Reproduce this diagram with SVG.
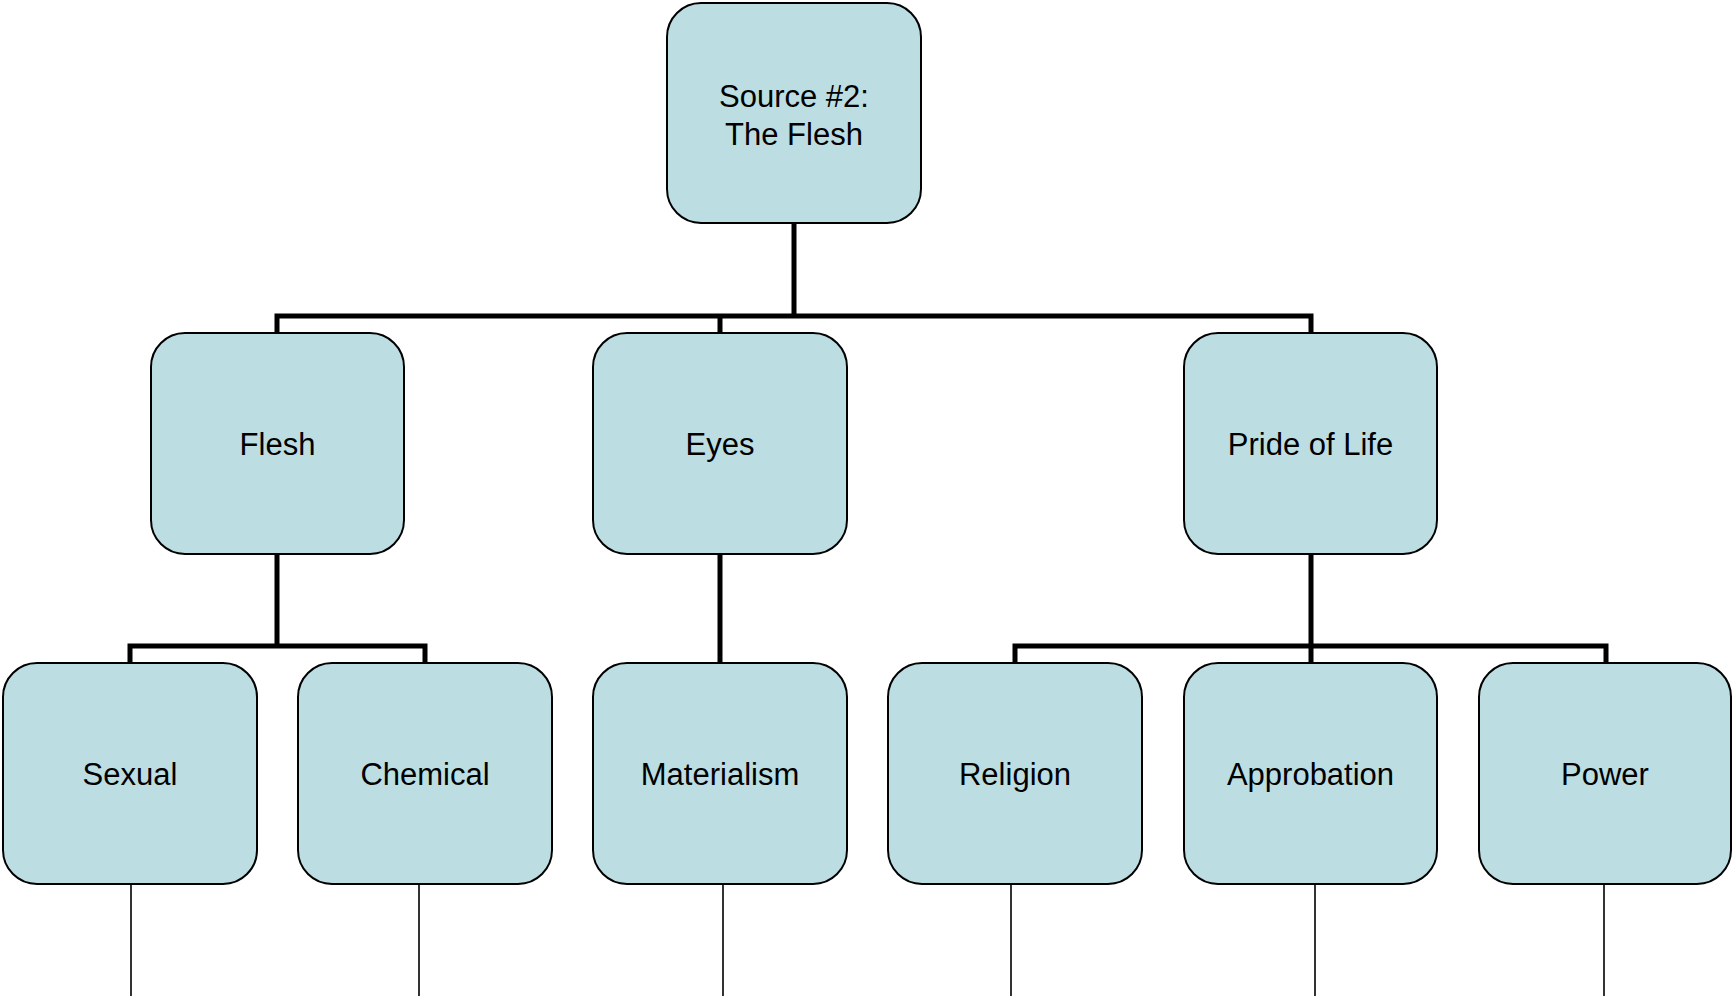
<svg xmlns="http://www.w3.org/2000/svg" width="1733" height="1001" viewBox="0 0 1733 1001">
<style>
.box{fill:#bcdee3;stroke:#000;stroke-width:2}
.lbl{font-family:"Liberation Sans",Arial,sans-serif;font-size:31px;fill:#000;text-anchor:middle}
.thick{stroke:#000;stroke-width:5;fill:none;stroke-linecap:square}
.thin{stroke:#000;stroke-width:1.6;fill:none}
</style>
<rect width="1733" height="1001" fill="#fff"/>
<g id="connectors">
<path class="thick" d="M794 224V316M277 316H1311M277 316V332M720 316V332M1311 316V332"/>
<path class="thick" d="M277 555V646M130 646H425M130 646V662M425 646V662"/>
<path class="thick" d="M720 555V662"/>
<path class="thick" d="M1311 555V646M1015 646H1606M1015 646V662M1311 646V662M1606 646V662"/>
<path class="thin" d="M131 884V996M419 884V996M723 884V996M1011 884V996M1315 884V996M1604 884V996"/>
</g>
<g id="source"><rect class="box" x="667" y="3" width="254" height="220" rx="34"/><text class="lbl" x="794" y="107">Source #2:</text><text class="lbl" x="794" y="145">The Flesh</text></g>
<g id="flesh"><rect class="box" x="151" y="333" width="253" height="221" rx="34"/><text class="lbl" x="277.5" y="455">Flesh</text></g>
<g id="eyes"><rect class="box" x="593" y="333" width="254" height="221" rx="34"/><text class="lbl" x="720" y="455">Eyes</text></g>
<g id="pride"><rect class="box" x="1184" y="333" width="253" height="221" rx="34"/><text class="lbl" x="1310.5" y="455">Pride of Life</text></g>
<g id="sexual"><rect class="box" x="3" y="663" width="254" height="221" rx="34"/><text class="lbl" x="130" y="785">Sexual</text></g>
<g id="chemical"><rect class="box" x="298" y="663" width="254" height="221" rx="34"/><text class="lbl" x="425" y="785">Chemical</text></g>
<g id="materialism"><rect class="box" x="593" y="663" width="254" height="221" rx="34"/><text class="lbl" x="720" y="785">Materialism</text></g>
<g id="religion"><rect class="box" x="888" y="663" width="254" height="221" rx="34"/><text class="lbl" x="1015" y="785">Religion</text></g>
<g id="approbation"><rect class="box" x="1184" y="663" width="253" height="221" rx="34"/><text class="lbl" x="1310.5" y="785">Approbation</text></g>
<g id="power"><rect class="box" x="1479" y="663" width="252" height="221" rx="34"/><text class="lbl" x="1605" y="785">Power</text></g>
</svg>
